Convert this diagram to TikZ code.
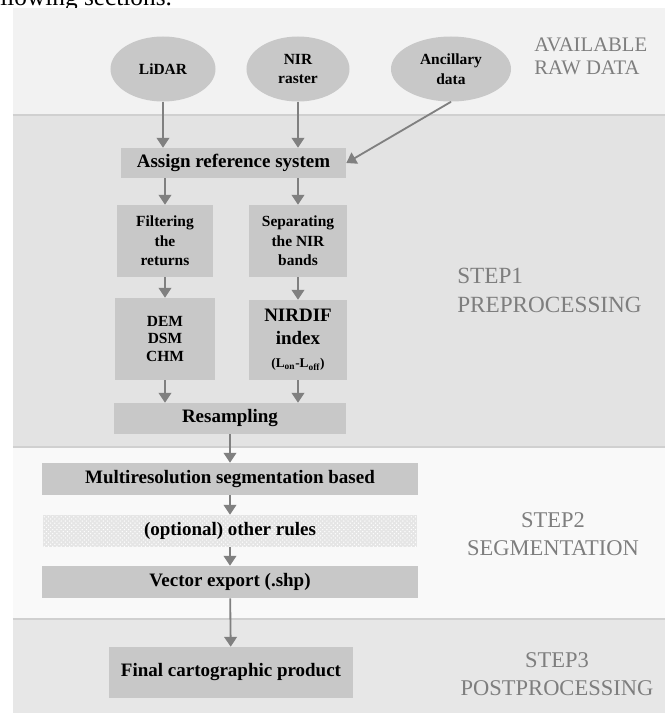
\documentclass[tikz,border=0pt]{standalone}
\usepackage{fontspec}
\setmainfont{Liberation Serif}
\usetikzlibrary{arrows.meta,shapes.geometric,patterns}
\definecolor{PanelTop}{HTML}{F2F2F2}
\definecolor{PanelOne}{HTML}{E3E3E3}
\definecolor{PanelTwo}{HTML}{F9F9F9}
\definecolor{PanelThree}{HTML}{E7E7E7}
\definecolor{RuleGray}{HTML}{D0D0D0}
\definecolor{BoxGray}{HTML}{C8C8C8}
\definecolor{ArrowGray}{HTML}{808080}
\definecolor{StepText}{HTML}{7E7E7E}

\begin{document}
\begin{tikzpicture}[
  x=0.025cm, y=-0.025cm,
  band/.style={rectangle, fill=#1, draw=none, inner sep=0pt, outer sep=0pt, minimum width=16.3cm},
  box/.style={rectangle, fill=BoxGray, inner sep=0pt, align=center, font=\fontsize{13.5}{15}\selectfont\bfseries},
  source/.style={ellipse, fill=BoxGray, inner sep=0pt, align=center, minimum height=1.625cm, font=\fontsize{11}{14}\selectfont\bfseries},
  steplabel/.style={inner sep=0pt, text=StepText},
  arrow/.style={-{Triangle[length=7pt,width=9pt]}, line width=1.3pt, draw=ArrowGray},
  bandline/.style={draw=RuleGray, line width=0.8pt}
]
\clip (0,0) rectangle (665,713);
\fill[white] (0,0) rectangle (665,713);

\node[anchor=base west, inner sep=0pt, font=\fontsize{18}{20}\selectfont] (intro) at (-21,5) {following sections.};

% bands
\node[band=PanelTop, minimum height=2.675cm] (rawband) at (339,61.5) {};
\node[band=PanelOne, minimum height=8.3cm] (stepone) at (339,281) {};
\node[band=PanelTwo, minimum height=4.3cm] (steptwo) at (339,533) {};
\node[band=PanelThree, minimum height=2.35cm] (stepthree) at (339,666) {};
\draw[bandline] (stepone.north west) -- (stepone.north east);
\draw[bandline] (steptwo.north west) -- (steptwo.north east);
\draw[bandline] (stepthree.north west) -- (stepthree.north east);

% raw data
\node[source, minimum width=2.625cm] (lidar) at (163,69) {LiDAR};
\node[source, minimum width=2.575cm] (nir) at (298,69) {NIR\\raster};
\node[source, minimum width=3cm] (ancillary) at (451,69) {Ancillary\\data};

% step 1
\node[box, minimum width=5.625cm, minimum height=0.75cm] (assign) at (233.5,163) {Assign reference system};
\node[box, minimum width=2.4cm, minimum height=1.8cm, font=\fontsize{11}{14}\selectfont\bfseries] (filter) at (165,241) {Filtering\\the\\returns};
\node[box, minimum width=2.425cm, minimum height=1.8cm, font=\fontsize{11}{14}\selectfont\bfseries] (separate) at (298,241) {Separating\\the NIR\\bands};
\node[box, minimum width=2.475cm, minimum height=2.05cm, font=\fontsize{11}{12.7}\selectfont\bfseries] (dem) at (165,339) {DEM\\DSM\\CHM};
\node[box, minimum width=2.425cm, minimum height=2cm, font=\fontsize{13.5}{16.4}\selectfont\bfseries] (nirdif) at (298,340) {NIRDIF\\index\\{\fontsize{9.5}{11}\selectfont(L\textsubscript{on}-L\textsubscript{off})}};
\node[box, minimum width=5.775cm, minimum height=0.775cm] (resample) at (230,418.5) {Resampling};

% step 2
\node[box, minimum width=9.375cm, minimum height=0.8cm] (multires) at (230,479) {Multiresolution segmentation based};
\node[box, fill=none, preaction={fill=PanelTwo!92!black}, pattern=crosshatch dots, pattern color=white, minimum width=9.35cm, minimum height=0.8cm] (optional) at (230,531) {(optional) other rules};
\node[box, minimum width=9.4cm, minimum height=0.8cm] (vectorexp) at (230,582) {Vector export (.shp)};

% step 3
\node[box, minimum width=6.1cm, minimum height=1.275cm] (final) at (231,672.5) {Final cartographic product};

% labels
\node[steplabel, anchor=north west, align=left, font=\fontsize{14.7}{16.4}\selectfont] (rawlabel) at (534,38) {AVAILABLE\\RAW DATA};
\node[steplabel, anchor=north west, align=left, font=\fontsize{16.5}{20.6}\selectfont] (onelabel) at (457,268) {STEP1\\PREPROCESSING};
\node[steplabel, anchor=north, align=center, font=\fontsize{16}{20}\selectfont] (twolabel) at (553,512) {STEP2\\SEGMENTATION};
\node[steplabel, anchor=north, align=center, font=\fontsize{16}{20}\selectfont] (threelabel) at (557,652) {STEP3\\POSTPROCESSING};

% arrows
\draw[arrow] (lidar) -- (lidar |- assign.north);
\draw[arrow] (nir) -- (nir |- assign.north);
\draw[arrow] (ancillary.south) -- (assign.east);
\draw[arrow] (assign.south -| filter) -- (filter);
\draw[arrow] (assign.south -| separate) -- (separate);
\draw[arrow] (filter) -- (dem);
\draw[arrow] (separate) -- (nirdif);
\draw[arrow] (dem) -- (dem |- resample.north);
\draw[arrow] (nirdif) -- (nirdif |- resample.north);
\draw[arrow] (resample) -- (multires);
\draw[arrow] (multires) -- (optional);
\draw[arrow] (optional) -- (vectorexp);
\draw[arrow] (vectorexp) -- (final);
\end{tikzpicture}
\end{document}
